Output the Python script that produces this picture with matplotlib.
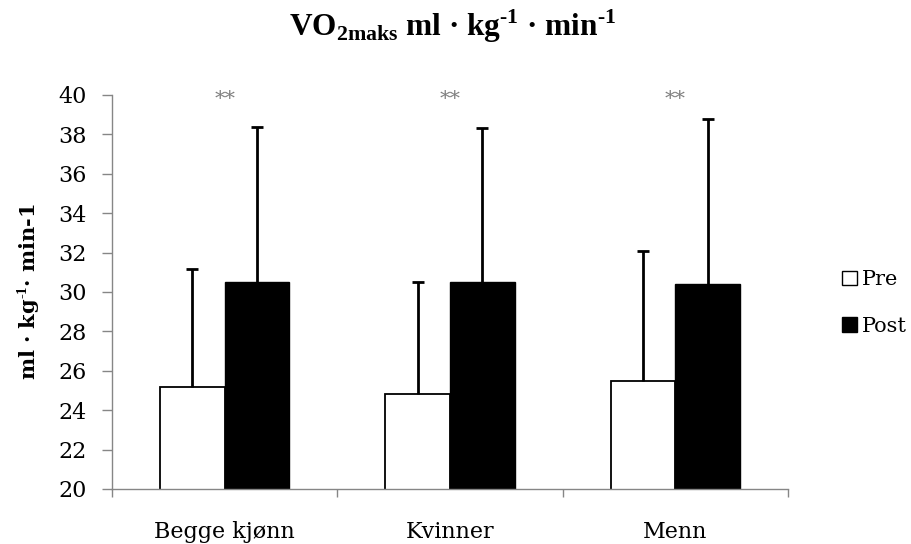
import matplotlib
matplotlib.use("Agg")
import matplotlib.pyplot as plt
from matplotlib.patches import Patch
import numpy as np

categories = ["Begge kjønn", "Kvinner", "Menn"]
pre_values = [25.2, 24.8, 25.5]
post_values = [30.5, 30.5, 30.4]
pre_err = [5.95, 5.7, 6.6]
post_err = [7.9, 7.8, 8.4]
series_names = ["Pre", "Post"]
sig_marks = ["**", "**", "**"]
yticks = list(range(20, 41, 2))

plt.rcParams['font.family'] = ['DejaVu Serif']
plt.rcParams['mathtext.fontset'] = 'custom'
plt.rcParams['mathtext.rm'] = 'Liberation Serif:bold'
plt.rcParams['mathtext.bf'] = 'Liberation Serif:bold'

fig = plt.figure(figsize=(9.12, 5.44), dpi=100)
ax = fig.add_axes([112/912, 1-489/544, (788-112)/912, (489-95)/544])

x = np.arange(len(categories))
w = 0.287
gray = '#868686'

ax.bar(x - w/2, pre_values, w, color='white', edgecolor='black', linewidth=1.3,
       label=series_names[0], zorder=2)
ax.bar(x + w/2, post_values, w, color='black', edgecolor='black', linewidth=1.0,
       label=series_names[1], zorder=2)
for xs, vals, errs in [(x - w/2, pre_values, pre_err), (x + w/2, post_values, post_err)]:
    eb = ax.errorbar(xs, vals, yerr=[np.zeros(len(vals)), errs], fmt='none', ecolor='black',
                     elinewidth=2, capsize=4, capthick=2, zorder=3)
    eb[1][0].set_visible(False)  # hide lower caps

for xi, m in zip(x, sig_marks):
    ax.text(xi, 39.75, m, ha='center', va='center', fontsize=15, color='#7f7f7f')

ax.set_ylim(20, 40)
ax.set_xlim(-0.5, 2.5)
ax.set_yticks(yticks)
ax.set_yticklabels([str(t) for t in yticks], fontsize=16)
ax.set_xticks(x)
ax.set_xticklabels(categories, fontsize=16)
ax.set_xticks([-0.5, 0.5, 1.5, 2.5], minor=True)
ax.tick_params(axis='x', which='major', length=0, pad=23)
ax.tick_params(axis='x', which='minor', length=6, color=gray, width=1)
ax.tick_params(axis='y', which='major', length=7, color=gray, width=1, pad=11)
for s in ['top', 'right']:
    ax.spines[s].set_visible(False)
for s in ['left', 'bottom']:
    ax.spines[s].set_color(gray)
    ax.spines[s].set_linewidth(1)

ax.set_ylabel(r"ml · kg$^{\text{-1}}$· min-1", fontsize=15, fontweight='bold')
ax.yaxis.set_label_coords(-0.104, 0.5)

fig.text(453/912, 1-26/544, r"VO$_{\mathrm{2maks}}$ ml · kg$^{\text{-1}}$ · min$^{\text{-1}}$",
         ha='center', va='center', fontsize=22.5, fontfamily='Liberation Serif', fontweight='bold')

handles = [Patch(facecolor='white', edgecolor='black', linewidth=1),
           Patch(facecolor='black', edgecolor='black')]
fig.legend(handles, series_names, loc='center left', bbox_to_anchor=(832/912, 1-303/544),
           frameon=False, fontsize=15, handlelength=0.7, handleheight=0.7, handletextpad=0.25,
           labelspacing=1.3, borderpad=0)

fig.savefig("out.png", dpi=100)
